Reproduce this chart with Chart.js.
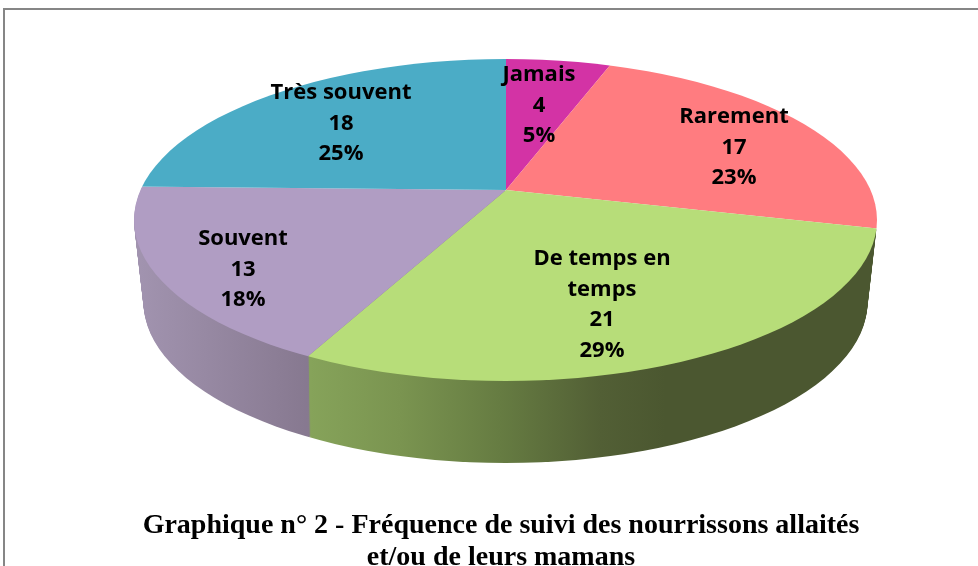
<!DOCTYPE html>
<html><head><meta charset="utf-8">
<style>html,body{margin:0;padding:0;background:#fff}#w{width:978px;height:566px;position:relative}</style>
<script src="https://cdn.jsdelivr.net/npm/chart.js@4"></script>
</head><body><div id="w"><canvas id="c" width="978" height="566"></canvas></div>
<script>
const categories = ['Jamais','Rarement','De temps en temps','Souvent','Très souvent'];
const labelLines = [['Jamais'],['Rarement'],['De temps en','temps'],['Souvent'],['Très souvent']];
const values = [4,17,21,13,18];
const percents = ['5%','23%','29%','18%','25%'];
const colors = ['#D333A5','#FF7C80','#B7DD79','#B09DC3','#4BACC6'];
const titleLines = ['Graphique n° 2 - Fréquence de suivi des nourrissons allaités','et/ou de leurs mamans'];

// layout (not data)
const apex = {x:506,y:190}, tilt = 0.43, rim = {x:505.5,y:220,rx:371.5,ry:161};
const depth = 82, taper = 9.5;
const labelCenters = [[539,75],[734,117],[602,259],[243,239],[341,93]];
const lineGap = 30.5;
const wallStops = {
  2:[[310,'#86a35a'],[400,'#7a9450'],[500,'#667c42'],[600,'#525f35'],[665,'#4b5730'],[880,'#4b5730']],
  3:[[134,'#a294b0'],[312,'#86788f']]
};

function drawArcs(ctx, meta, k, only){
  const els = meta.data;
  ctx.save();
  ctx.beginPath();
  ctx.ellipse(rim.x, rim.y+k, rim.rx-taper*k/depth, rim.ry, 0, 0, Math.PI*2);
  ctx.clip();
  ctx.translate(apex.x, apex.y+k);
  ctx.scale(1,tilt);
  ctx.translate(-els[0].x,-els[0].y);
  els.forEach((el,i)=>{
    if(only && !only.includes(i)) return;
    let bg = el.options.backgroundColor;
    if(k>0){
      const st = wallStops[i], a = st[0][0], b = st[st.length-1][0];
      const g = ctx.createLinearGradient(el.x+a-apex.x,0,el.x+b-apex.x,0);
      st.forEach(s=>g.addColorStop((s[0]-a)/(b-a),s[1]));
      bg = g;
    }
    const e = Object.create(el);
    e.options = Object.assign({},el.options,{backgroundColor:bg,borderWidth:0});
    Chart.ArcElement.prototype.draw.call(e,ctx);
  });
  ctx.restore();
}

const pie3d = {
  id:'pie3d',
  beforeDatasetsDraw(chart){
    const ctx = chart.ctx, meta = chart.getDatasetMeta(0);
    for(let k=depth;k>=1;k--) drawArcs(ctx,meta,k,[2,3]);
    drawArcs(ctx,meta,0,null);
    return false;
  },
  afterDraw(chart){
    const ctx = chart.ctx;
    ctx.save();
    ctx.fillStyle='#868686';
    ctx.fillRect(3,8,975,2);
    ctx.fillRect(3,8,2,558);
    ctx.fillStyle='#000';
    ctx.font='bold 22px "Open Sans"';
    ctx.textAlign='center';ctx.textBaseline='middle';
    categories.forEach((c,i)=>{
      const lines = labelLines[i].concat([String(values[i]),percents[i]]);
      lines.forEach((t,j)=>ctx.fillText(t,labelCenters[i][0],labelCenters[i][1]+j*lineGap));
    });
    ctx.restore();
  }
};

new Chart(document.getElementById('c'),{
  type:'pie',
  data:{labels:categories,datasets:[{data:values,backgroundColor:colors,borderWidth:0,radius:700}]},
  options:{
    responsive:false,animation:false,
    layout:{padding:{left:24,right:0,top:0,bottom:0}},
    plugins:{
      legend:{display:false},tooltip:{enabled:false},
      title:{display:true,position:'bottom',text:titleLines,color:'#000',
        font:{family:'"Liberation Serif"',size:28,weight:'bold',lineHeight:1.14},padding:{top:8,bottom:-8}}
    }
  },
  plugins:[pie3d]
});
</script></body></html>
